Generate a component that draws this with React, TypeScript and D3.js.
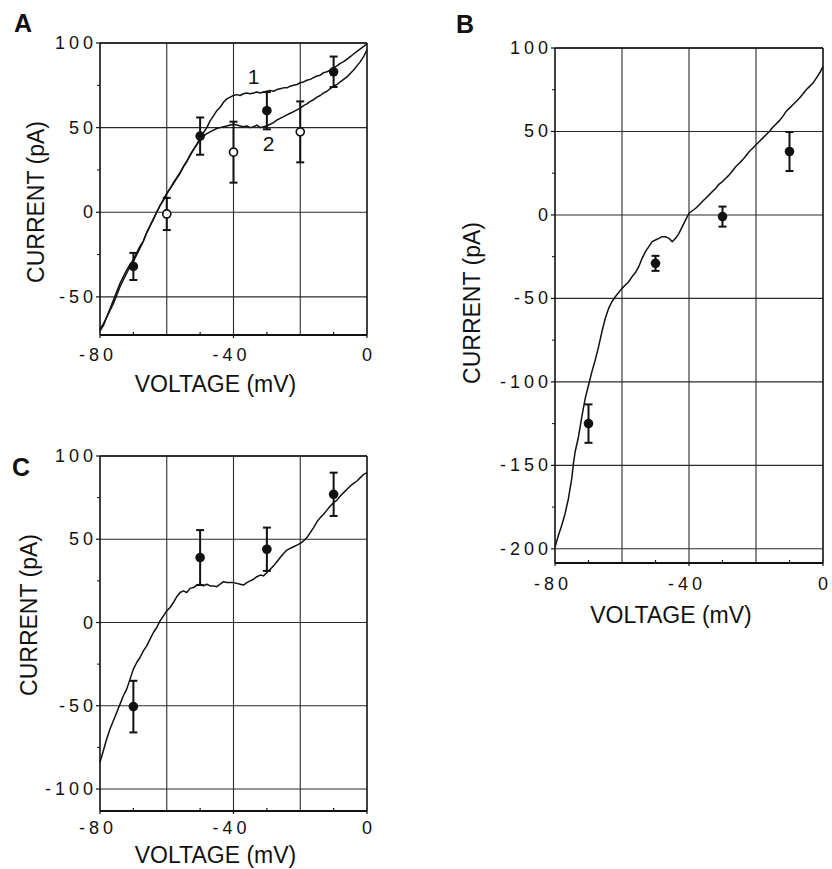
import React from "react";
import * as d3 from "d3";

// ---------- DATA ----------
const xTickValues = [-80, -40, 0];
const xGridValues = [-60, -40, -20];
const xMinorValues = [-70, -50, -30, -10];

// Panel A
const aYTicks = [100, 50, 0, -50];
const aYMinor = [75, 25, -25];
const aCurve1: [number, number][] = [
  [-80, -70], [-79, -67], [-78, -62], [-77, -57], [-76, -52], [-75, -47], [-74, -42], [-73, -38], [-72, -34],
  [-71, -31], [-70, -28], [-69, -24], [-68, -20], [-67, -17], [-66, -12], [-65, -8], [-64, -4], [-63, 0],
  [-62, 4], [-61, 7], [-60, 11], [-59, 14], [-58, 17], [-57, 20], [-56, 23], [-55, 27], [-54, 30], [-53, 34],
  [-52, 37], [-51, 40], [-50, 44], [-49, 47], [-48, 50], [-47, 54], [-46, 57], [-45, 60], [-44, 62],
  [-43, 65], [-42, 67], [-41, 68], [-40, 69], [-39, 69.5], [-38, 69], [-37, 70], [-36, 70.5], [-35, 70],
  [-34, 70.5], [-33, 71], [-32, 70.5], [-31, 71], [-30, 71.5], [-29, 72], [-28, 71.5], [-27, 72.5], [-26, 73],
  [-25, 73.5], [-24, 73.5], [-23, 74.5], [-22, 75], [-21, 75.5], [-20, 76.5], [-19, 77], [-18, 78], [-17, 78.5],
  [-16, 79.5], [-15, 80.5], [-14, 81], [-13, 82.5], [-12, 83], [-11, 84], [-10, 85.5], [-9, 86.5], [-8, 88],
  [-7, 89], [-6, 90.5], [-5, 92], [-4, 93.5], [-3, 95], [-2, 96.5], [-1, 98], [0, 99.5],
];
const aCurve2: [number, number][] = [
  [-80, -69], [-79, -66], [-78, -62], [-77, -58], [-76, -54], [-75, -49], [-74, -44], [-73, -40], [-72, -36],
  [-71, -32], [-70, -29], [-69, -25], [-68, -21], [-67, -17], [-66, -12], [-65, -8], [-64, -4], [-63, 0],
  [-62, 4], [-61, 7.5], [-60, 11], [-59, 14], [-58, 17.5], [-57, 20.5], [-56, 23.5], [-55, 27], [-54, 30],
  [-53, 33.5], [-52, 37], [-51, 40], [-50, 43], [-49, 45], [-48, 46.5], [-47, 47.5], [-46, 48.5], [-45, 49.5],
  [-44, 50], [-43, 50.5], [-42, 51], [-41, 51.5], [-40, 52], [-39, 51.5], [-38, 51], [-37, 50.5], [-36, 51],
  [-35, 50], [-34, 50.5], [-33, 51.5], [-32, 50], [-31, 50.5], [-30, 51], [-29, 52], [-28, 53], [-27, 54.5],
  [-26, 55.5], [-25, 56.5], [-24, 57.5], [-23, 58.5], [-22, 59.5], [-21, 60.5], [-20, 61.5], [-19, 63],
  [-18, 64], [-17, 65.5], [-16, 66.5], [-15, 68], [-14, 69], [-13, 70.5], [-12, 71.5], [-11, 73], [-10, 74.5],
  [-9, 75.5], [-8, 77], [-7, 78.5], [-6, 80], [-5, 82], [-4, 84], [-3, 86.5], [-2, 89], [-1, 92], [0, 96],
];
const aFilledV = [-70, -50, -30, -10];
const aFilledI = [-32, 45, 60, 83];
const aFilledErr = [8, 11, 11, 9];
const aOpenV = [-60, -40, -20];
const aOpenI = [-1, 35.5, 47.5];
const aOpenErr = [9.5, 18, 18];
const aCurveLabels = ["1", "2"];

// Panel B
const bYTicks = [100, 50, 0, -50, -100, -150, -200];
const bYMinor = [75, 25, -25, -75, -125, -175];
const bCurve: [number, number][] = [
  [-80, -199], [-79, -192], [-78, -186], [-77, -179], [-76, -170], [-75, -158], [-74.5, -149], [-74, -142],
  [-73, -133], [-72, -121], [-71, -110], [-70, -102], [-69, -94], [-68, -87], [-67, -79], [-66, -70],
  [-65, -62], [-64, -56], [-63, -52], [-62, -49], [-61, -46.5], [-60, -44], [-59, -42], [-58, -40],
  [-57, -37], [-56, -34.5], [-55, -31], [-54, -26], [-53, -22], [-52, -19], [-51, -16], [-50, -15],
  [-49, -14], [-48, -13], [-47, -13], [-46, -14], [-45, -16], [-44, -14], [-43, -11], [-42, -7], [-41, -3],
  [-40, 1], [-39, 2.5], [-38, 4], [-37, 6], [-36, 8], [-35, 10], [-34, 12], [-33, 14], [-32, 16],
  [-31, 18.5], [-30, 20], [-29, 22], [-28, 24], [-27, 26.5], [-26, 29], [-25, 31], [-24, 33], [-23, 35.5],
  [-22, 38], [-21, 40], [-20, 42], [-19, 44], [-18, 46], [-17, 48], [-16, 50], [-15, 52.5], [-14, 54.5],
  [-13, 56.5], [-12, 59], [-11, 62], [-10, 64], [-9, 66], [-8, 68], [-7, 70], [-6, 72.5], [-5, 75],
  [-4, 77], [-3, 79], [-2, 82], [-1, 85], [0, 89],
];
const bFilledV = [-70, -50, -30, -10];
const bFilledI = [-125, -29, -1, 38];
const bFilledErr = [11.5, 4.5, 6, 11.7];

// Panel C
const cYTicks = [100, 50, 0, -50, -100];
const cYMinor = [75, 25, -25, -75];
const cCurve: [number, number][] = [
  [-80, -84], [-79, -77], [-78, -70], [-77, -64], [-76, -59], [-75, -54], [-74, -49], [-73, -44], [-72, -40],
  [-71, -34], [-70, -28], [-69, -24], [-68, -21], [-67, -17], [-66, -14], [-65, -10], [-64, -6], [-63, -3],
  [-62, 1], [-61, 4], [-60, 7], [-59, 9], [-58, 12], [-57, 15.5], [-56, 18], [-55, 19], [-54, 18],
  [-53, 20.5], [-52, 21], [-51, 22.5], [-50, 23], [-49, 22], [-48, 23], [-47, 22], [-46, 22], [-45, 21.5],
  [-44, 23], [-43, 24.5], [-42, 24], [-41, 24], [-40, 24], [-39, 23.5], [-38, 23], [-37, 22.5], [-36, 24],
  [-35, 25], [-34, 26], [-33, 27.5], [-32, 28.5], [-31, 28], [-30, 30], [-29, 32], [-28, 34], [-27, 36.5],
  [-26, 39], [-25, 41.5], [-24, 43.5], [-23, 44.5], [-22, 45.5], [-21, 46.5], [-20, 47.5], [-19, 49],
  [-18, 51], [-17, 54], [-16, 57], [-15, 60.5], [-14, 63], [-13, 65], [-12, 67.5], [-11, 70], [-10, 72],
  [-9, 73.5], [-8, 76], [-7, 78], [-6, 80], [-5, 82], [-4, 83.5], [-3, 85], [-2, 87], [-1, 89], [0, 90],
];
const cFilledV = [-70, -50, -30, -10];
const cFilledI = [-50.5, 39, 44, 77];
const cFilledErr = [15.5, 16.5, 13, 13];

const xTitle = "VOLTAGE (mV)";
const yTitle = "CURRENT (pA)";

// ---------- STYLE ----------
const FONT = "'Liberation Sans', Arial, Helvetica, sans-serif";
const INK = "#111";
const GRID = "#2a2a2a";
const TICK_LS = 4;

type Pt = { v: number; i: number; e: number };

interface PanelProps {
  letter: string;
  letterPos: [number, number];
  left: number;
  right: number;
  yDomain: [number, number];
  yRange: [number, number];
  yTicks: number[];
  yMinor: number[];
  curves: [number, number][][];
  filled: Pt[];
  open: Pt[];
  xTickY: number;
  xTitleY: number;
  yTitleX: number;
  yTitleCY: number;
  children?: (x: d3.ScaleLinear<number, number>, y: d3.ScaleLinear<number, number>) => React.ReactNode;
}

function fmt(n: number) {
  return n < 0 ? "-" + Math.abs(n) : String(n);
}

function Panel(p: PanelProps) {
  const x = d3.scaleLinear().domain([-80, 0]).range([p.left, p.right]);
  const y = d3.scaleLinear().domain(p.yDomain).range(p.yRange);
  const line = d3
    .line<[number, number]>()
    .x((d) => x(d[0]))
    .y((d) => y(d[1]));
  const top = y(p.yDomain[1]);
  const bottom = y(p.yDomain[0]);
  const capW = 4;
  return (
    <g>
      <text x={p.letterPos[0]} y={p.letterPos[1]} fontFamily={FONT} fontWeight="bold" fontSize={25} fill={INK}>
        {p.letter}
      </text>
      {p.yTicks.map((t) => (
        <line key={"hg" + t} x1={p.left} x2={p.right} y1={y(t)} y2={y(t)} stroke={GRID} strokeWidth={1.1} />
      ))}
      {xGridValues.map((t) => (
        <line key={"vg" + t} x1={x(t)} x2={x(t)} y1={top} y2={bottom} stroke={GRID} strokeWidth={1.1} />
      ))}
      <line x1={p.left} x2={p.left} y1={top} y2={bottom} stroke={INK} strokeWidth={1.6} />
      <line x1={p.right} x2={p.right} y1={top} y2={bottom} stroke={INK} strokeWidth={1.6} />
      <line x1={p.left} x2={p.right} y1={bottom} y2={bottom} stroke={INK} strokeWidth={1.9} />
      <line x1={p.left} x2={p.right} y1={top} y2={top} stroke={INK} strokeWidth={1.3} />
      {p.yTicks.map((t) => (
        <line key={"yt" + t} x1={p.left - 4} x2={p.left} y1={y(t)} y2={y(t)} stroke={INK} strokeWidth={1.2} />
      ))}
      {p.yMinor.map((t) => (
        <line key={"ym" + t} x1={p.left - 3} x2={p.left} y1={y(t)} y2={y(t)} stroke={INK} strokeWidth={1} />
      ))}
      {xMinorValues.map((t) => (
        <line key={"xm" + t} x1={x(t)} x2={x(t)} y1={bottom} y2={bottom - 3} stroke={INK} strokeWidth={1.2} />
      ))}
      {xTickValues.map((t) => (
        <line key={"xt" + t} x1={x(t)} x2={x(t)} y1={bottom} y2={bottom + 3} stroke={INK} strokeWidth={1.2} />
      ))}
      {p.yTicks.map((t) => (
        <text
          key={"yl" + t}
          x={p.left - 7 + TICK_LS}
          y={y(t) + 6}
          textAnchor="end"
          fontFamily={FONT}
          fontSize={18}
          letterSpacing={TICK_LS}
          fill={INK}
        >
          {fmt(t)}
        </text>
      ))}
      {xTickValues.map((t) => (
        <text
          key={"xl" + t}
          x={x(t) + TICK_LS / 2 - (t < 0 ? 4 : 0)}
          y={p.xTickY}
          textAnchor="middle"
          fontFamily={FONT}
          fontSize={18}
          letterSpacing={TICK_LS}
          fill={INK}
        >
          {fmt(t)}
        </text>
      ))}
      <text
        x={(p.left + p.right) / 2 - 18}
        y={p.xTitleY}
        textAnchor="middle"
        fontFamily={FONT}
        fontSize={23}
        fill={INK}
      >
        {xTitle}
      </text>
      <text
        transform={`translate(${p.yTitleX},${p.yTitleCY}) rotate(-90)`}
        textAnchor="middle"
        fontFamily={FONT}
        fontSize={23}
        fill={INK}
      >
        {yTitle}
      </text>
      {p.curves.map((c, k) => (
        <path key={"c" + k} d={line(c) || ""} fill="none" stroke={INK} strokeWidth={1.5} strokeLinejoin="round" />
      ))}
      {[...p.filled, ...p.open].map((d, k) => (
        <g key={"eb" + k}>
          <line x1={x(d.v)} x2={x(d.v)} y1={y(d.i - d.e)} y2={y(d.i + d.e)} stroke={INK} strokeWidth={2} />
          <line x1={x(d.v) - capW} x2={x(d.v) + capW} y1={y(d.i - d.e)} y2={y(d.i - d.e)} stroke={INK} strokeWidth={2} />
          <line x1={x(d.v) - capW} x2={x(d.v) + capW} y1={y(d.i + d.e)} y2={y(d.i + d.e)} stroke={INK} strokeWidth={2} />
        </g>
      ))}
      {p.filled.map((d, k) => (
        <circle key={"f" + k} cx={x(d.v)} cy={y(d.i)} r={4.8} fill={INK} />
      ))}
      {p.open.map((d, k) => (
        <circle key={"o" + k} cx={x(d.v)} cy={y(d.i)} r={4} fill="#fff" stroke={INK} strokeWidth={1.7} />
      ))}
      {p.children ? p.children(x, y) : null}
    </g>
  );
}

function zipPts(v: number[], i: number[], e: number[]): Pt[] {
  return v.map((vv, k) => ({ v: vv, i: i[k], e: e[k] }));
}

export default function App() {
  return (
    <svg
      width={832}
      height={869}
      viewBox="0 0 832 869"
      style={{ position: "absolute", left: 0, top: 0, background: "#fff" }}
    >
      <rect x={0} y={0} width={832} height={869} fill="#fff" />
      <Panel
        letter="A"
        letterPos={[14, 32]}
        left={100}
        right={367}
        yDomain={[-72.5, 100]}
        yRange={[335, 43]}
        yTicks={aYTicks}
        yMinor={aYMinor}
        curves={[aCurve1, aCurve2]}
        filled={zipPts(aFilledV, aFilledI, aFilledErr)}
        open={zipPts(aOpenV, aOpenI, aOpenErr)}
        xTickY={361}
        xTitleY={392}
        yTitleX={44}
        yTitleCY={202}
      >
        {(x, y) => (
          <g>
            <text x={x(-34)} y={y(75.5)} textAnchor="middle" fontFamily={FONT} fontSize={21} fill={INK}>
              {aCurveLabels[0]}
            </text>
            <text x={x(-29.5)} y={y(36)} textAnchor="middle" fontFamily={FONT} fontSize={21} fill={INK}>
              {aCurveLabels[1]}
            </text>
          </g>
        )}
      </Panel>
      <Panel
        letter="B"
        letterPos={[456, 33]}
        left={555}
        right={823}
        yDomain={[-208.5, 100]}
        yRange={[563, 48]}
        yTicks={bYTicks}
        yMinor={bYMinor}
        curves={[bCurve]}
        filled={zipPts(bFilledV, bFilledI, bFilledErr)}
        open={[]}
        xTickY={590}
        xTitleY={623}
        yTitleX={480}
        yTitleCY={303}
      />
      <Panel
        letter="C"
        letterPos={[12, 476]}
        left={100}
        right={367}
        yDomain={[-113.2, 100]}
        yRange={[811, 456]}
        yTicks={cYTicks}
        yMinor={cYMinor}
        curves={[cCurve]}
        filled={zipPts(cFilledV, cFilledI, cFilledErr)}
        open={[]}
        xTickY={834}
        xTitleY={863}
        yTitleX={37}
        yTitleCY={615}
      />
    </svg>
  );
}
